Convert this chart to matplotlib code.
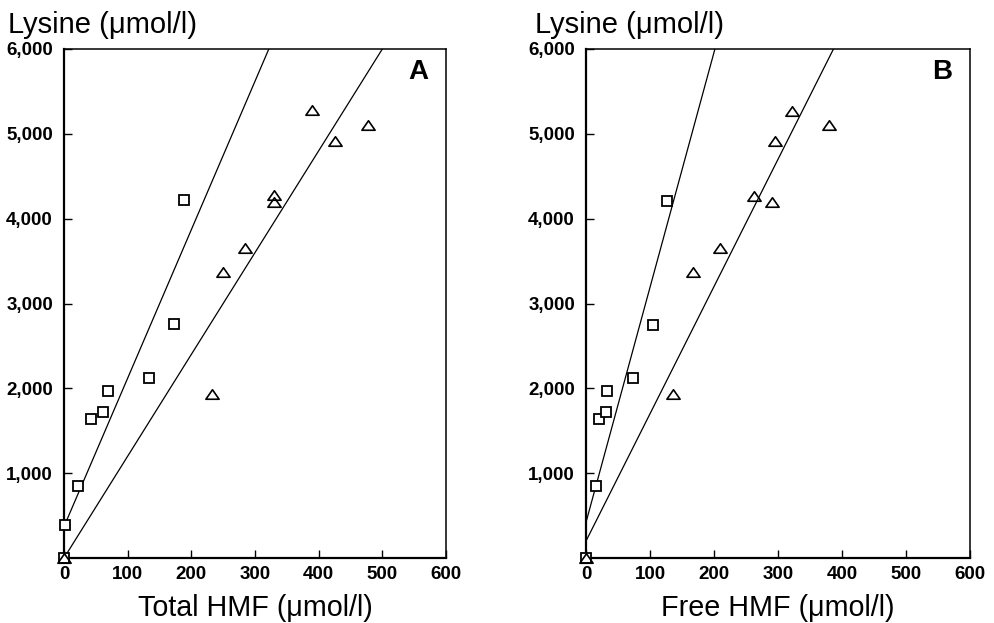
import numpy as np
import matplotlib
matplotlib.use("Agg")
import matplotlib.pyplot as plt
from matplotlib.path import Path
from matplotlib.ticker import FuncFormatter

plt.rcParams['font.family'] = ['Liberation Sans', 'DejaVu Sans']

# Panel A: lysine vs total HMF
a_sq_x = [0, 2, 21.5, 42, 62, 69, 133, 172, 189]
a_sq_y = [0, 390, 852, 1638, 1717, 1972, 2125, 2758, 4216]
a_tri_x = [0, 233, 250, 284, 330, 330, 389, 425, 478]
a_tri_y = [0, 1929, 3375, 3651, 4279, 4200, 5281, 4919, 5104]

# Panel B: lysine vs free HMF
b_sq_x = [0, 15.6, 21, 31, 33, 73, 104, 126]
b_sq_y = [0, 849, 1635, 1717, 1969, 2125, 2747, 4208]
b_tri_x = [0, 136, 167, 209, 263, 290, 295, 322, 380]
b_tri_y = [0, 1929, 3375, 3651, 4271, 4193, 4916, 5269, 5104]

# Regression lines (intercept, slope)
a_sq_fit = (370, 17.5)
a_tri_fit = (0, 12.0)
b_sq_fit = (420, 27.7)
b_tri_fit = (200, 15.0)

x_ticks = [0, 100, 200, 300, 400, 500, 600]
y_ticks = [1000, 2000, 3000, 4000, 5000, 6000]

# flattened open triangle marker
tri_marker = Path([(-1, -0.72), (1, -0.72), (0, 0.72), (-1, -0.72)],
                  [Path.MOVETO, Path.LINETO, Path.LINETO, Path.CLOSEPOLY])

W, H = 994, 623
fig = plt.figure(figsize=(W / 100, H / 100), dpi=100)


def panel(left_px, right_px, sq_x, sq_y, tri_x, tri_y, sq_fit, tri_fit,
          letter, xlabel, ylab_px):
    ax = fig.add_axes([left_px / W, (H - 558) / H,
                       (right_px - left_px) / W, 509 / H])
    xs = np.array([0, 600])
    for b0, b1 in (sq_fit, tri_fit):
        ax.plot(xs, b0 + b1 * xs, color='black', lw=0.9, zorder=2)
    ax.plot(sq_x, sq_y, linestyle='none', marker='s', ms=6.8,
            mfc='white', mec='black', mew=1.3, zorder=3, clip_on=False)
    ax.plot(tri_x, tri_y, linestyle='none', marker=tri_marker, ms=9.5,
            mfc='none', mec='black', mew=1.2, zorder=4, clip_on=False)
    ax.set_xlim(0, 600)
    ax.set_ylim(0, 6000)
    ax.set_xticks(x_ticks)
    ax.set_yticks(y_ticks)
    ax.yaxis.set_major_formatter(FuncFormatter(lambda v, p: f"{int(v):,}"))
    ax.tick_params(direction='in', length=6, width=1.0, labelsize=13.5,
                   colors='black')
    ax.tick_params(axis='x', pad=6)
    ax.tick_params(axis='y', pad=8)
    for lab in ax.get_xticklabels() + ax.get_yticklabels():
        lab.set_fontweight('bold')
    for side in ('left', 'bottom'):
        ax.spines[side].set_linewidth(1.6)
    for side in ('top', 'right'):
        ax.spines[side].set_linewidth(1.1)
    ax.text(0.927, 0.955, letter, transform=ax.transAxes, ha='center',
            va='center', fontsize=20, fontweight='bold')
    ax.set_xlabel(xlabel, fontsize=20.7, labelpad=8)
    fig.text(ylab_px / W, (H - 33) / H, "Lysine (\u03bcmol/l)",
             fontsize=21, ha='left', va='baseline')
    return ax


panel(64, 446, a_sq_x, a_sq_y, a_tri_x, a_tri_y, a_sq_fit, a_tri_fit,
      'A', "Total HMF (\u03bcmol/l)", 8)
panel(586, 970, b_sq_x, b_sq_y, b_tri_x, b_tri_y, b_sq_fit, b_tri_fit,
      'B', "Free HMF (\u03bcmol/l)", 535)

fig.savefig("out.png", dpi=100)
